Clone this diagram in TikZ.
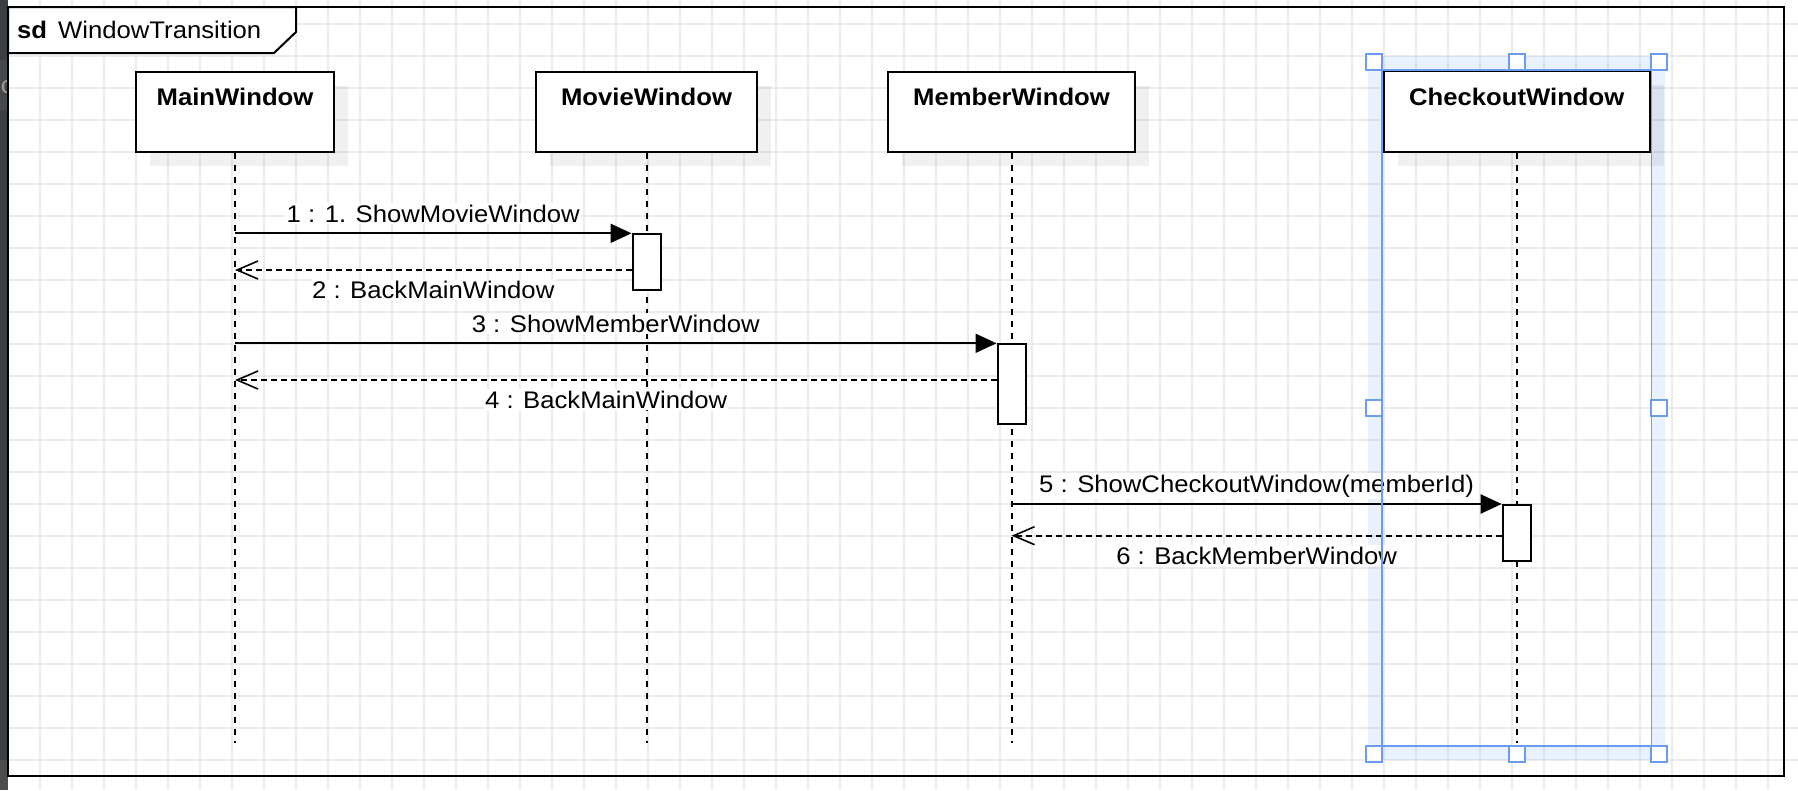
\documentclass[tikz,border=0pt]{standalone}
\usepackage{fontspec}
\setmainfont{Liberation Sans}[FakeStretch=1.07]
\usetikzlibrary{arrows.meta,shadows}
\definecolor{gridc}{HTML}{EBEBEB}
\definecolor{stripc}{HTML}{3B3F42}
\definecolor{stripl}{HTML}{46494C}
\definecolor{stripb}{HTML}{4D4D4D}
\definecolor{selc}{HTML}{6A9DF0}
\definecolor{sidegray}{HTML}{9A9A9A}
\begin{document}
\begin{tikzpicture}[x=1pt,y=-1pt,
  font=\fontsize{24pt}{29pt}\selectfont,
  gridline/.style={gridc, line width=1.3pt},
  lifebox/.style={draw=black, line width=2pt, fill=white, rectangle, minimum height=80pt, inner sep=0pt,
    drop shadow={shadow xshift=14pt, shadow yshift=-14pt, fill=black, opacity=0.06}},
  titletext/.style={font=\fontsize{24pt}{29pt}\selectfont\bfseries, anchor=base, inner sep=0pt},
  lifeline/.style={line width=2pt, dash pattern=on 6pt off 6pt},
  actbox/.style={draw=black, line width=2pt, fill=white, rectangle, minimum width=28pt, inner sep=0pt},
  callmsg/.style={line width=2pt, -{Triangle[length=21pt,width=19pt]}},
  retmsg/.style={line width=2pt, dash pattern=on 6pt off 4pt, -{Straight Barb[length=21pt,width=18pt,line width=1.6pt]}},
  msglabel/.style={anchor=base, fill=white, inner sep=1.5pt},
  handle/.style={draw=selc, line width=1.7pt, fill=white}]
\useasboundingbox (0,0) rectangle (1798,790);
% grid
\fill[white] (0,0) rectangle (1798,790);
\foreach \gx in {40,72,...,1792} \draw[gridline] (\gx,0) -- (\gx,790);
\foreach \gy in {24,56,...,760} \draw[gridline] (8,\gy) -- (1798,\gy);
% left strip
\fill[stripc] (0,0) rectangle (8,790);
\fill[stripl] (0,60) rectangle (8,110);
\fill[stripb] (0,760) rectangle (8,790);
\begin{scope}
  \clip (0,60) rectangle (8,110);
  \node[anchor=base east, inner sep=0pt, text=sidegray] (sidetext) at (14,93) {ic};
\end{scope}
% selection band (under everything)
\fill[selc, opacity=0.14, even odd rule] (1368,56) rectangle (1665,760) (1382,70) rectangle (1651,746);
% frame
\draw[line width=2pt] (8,7) rectangle (1784,776);
\draw[line width=2pt, fill=white] (8,7) -- (296,7) -- (296,32) -- (274,53) -- (8,53) -- cycle;
\node[anchor=base west, inner sep=0pt] (tabtext) at (17,38.3) {\textbf{sd}\hspace{11pt}WindowTransition};
% lifeline heads
\node[lifebox, minimum width=198.5pt] (main) at (235,111.8) {};
\node[lifebox, minimum width=221pt] (movie) at (646.5,111.8) {};
\node[lifebox, minimum width=246.6pt] (member) at (1011.5,111.8) {};
\node[lifebox, minimum width=266pt, minimum height=80.7pt] (checkout) at (1516.7,111.4) {};
\node[titletext] (mainT) at ([yshift=-35pt]main.north) {MainWindow};
\node[titletext] (movieT) at ([yshift=-35pt]movie.north) {MovieWindow};
\node[titletext] (memberT) at ([yshift=-35pt]member.north) {MemberWindow};
\node[titletext] (checkoutT) at ([yshift=-35.4pt]checkout.north) {CheckoutWindow};
% lifelines
\coordinate (llend) at (0,743);
\draw[lifeline] (main.south) -- (main.south |- llend);
\draw[lifeline] (movie.south) -- (movie.south |- llend);
\draw[lifeline] (member.south) -- (member.south |- llend);
\draw[lifeline] (checkout.south) -- (checkout.south |- llend);
% message levels
\coordinate (y1) at (0,233.3);
\coordinate (y2) at (0,270);
\coordinate (y3) at (0,343.3);
\coordinate (y4) at (0,380);
\coordinate (y5) at (0,504);
\coordinate (y6) at (0,535.7);
% activations
\node[actbox, minimum height=56pt, anchor=north] (act1) at (movie.south |- y1) {};
\node[actbox, minimum height=80pt, anchor=north] (act2) at (member.south |- y3) {};
\node[actbox, minimum height=56pt, anchor=north] (act3) at (checkout.south |- y5) {};
% messages
\draw[callmsg] (main.south |- y1) -- (act1.north west)
  node[msglabel, midway, yshift=11pt] (l1) {1 : 1. ShowMovieWindow};
\draw[retmsg] (act1.west |- y2) -- (main.south |- y2)
  node[msglabel, midway, yshift=-28.3pt] (l2) {2 : BackMainWindow};
\draw[callmsg] (main.south |- y3) -- (act2.north west)
  node[msglabel, midway, yshift=11pt] (l3) {3 : ShowMemberWindow};
\draw[retmsg] (act2.west |- y4) -- (main.south |- y4)
  node[msglabel, pos=0.5125, yshift=-28.3pt] (l4) {4 : BackMainWindow};
\draw[callmsg] (member.south |- y5) -- (act3.north west)
  node[msglabel, midway, yshift=11.7pt] (l5) {5 : ShowCheckoutWindow(memberId)};
\draw[retmsg] (act3.west |- y6) -- (member.south |- y6)
  node[msglabel, midway, yshift=-28.3pt] (l6) {6 : BackMemberWindow};
% selection overlay
\draw[selc, line width=1.7pt] (1381.8,69.7) rectangle (1651.5,746.3);
\foreach \hx/\hy in {1366/54, 1509/54, 1651/54, 1366/400, 1651/400, 1366/746, 1509/746, 1651/746}
  \draw[handle] (\hx,\hy) rectangle ++(16,16);
\end{tikzpicture}
\end{document}
